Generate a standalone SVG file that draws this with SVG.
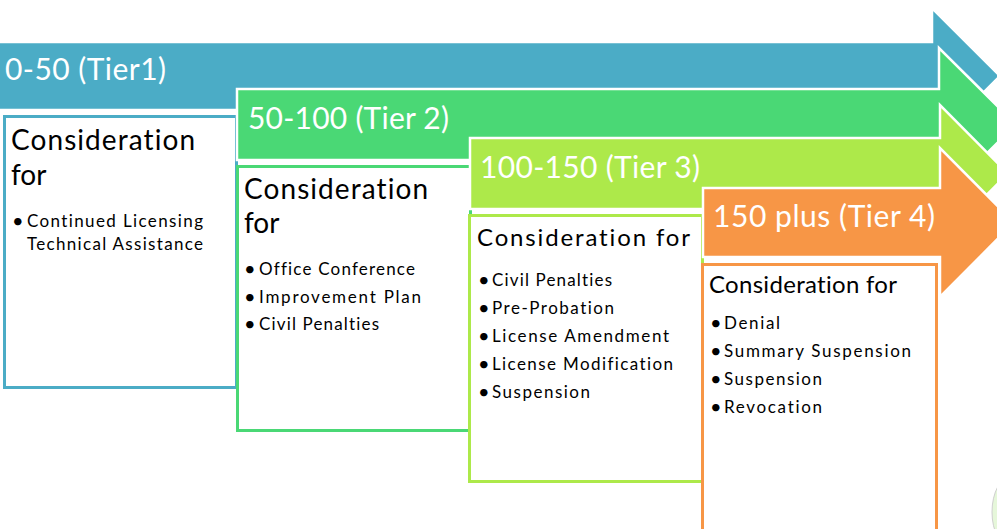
<svg xmlns="http://www.w3.org/2000/svg" width="997" height="529" viewBox="0 0 997 529">
<style>
text{font-variant-ligatures:none;font-feature-settings:"liga" 0}
.arrow{stroke:#ffffff;stroke-width:2.5;stroke-linejoin:miter}
.box{fill:#ffffff;stroke-width:3}
.hdr{font-family:Lato,"Open Sans",sans-serif;font-size:30px;fill:#ffffff}
.big{font-family:Lato,"Open Sans",sans-serif;font-size:28px;fill:#000000}
.mid{font-family:Lato,"Open Sans",sans-serif;font-size:24px;fill:#000000}
.itm{font-family:Lato,"Open Sans",sans-serif;font-size:17px;fill:#000000}
.bul{font-family:Lato,"Open Sans",sans-serif;font-size:20px;fill:#000000}
</style>
<rect width="997" height="529" fill="#ffffff"/>
<g id="tier1">
<path class="arrow" fill="#4BACC6" d="M-3,42 H932 V8 L1000,76 L932,144 V110 H-3 Z"/>
<text class="hdr" x="5" y="80" textLength="161">0-50 (Tier1)</text>
<rect class="box" x="4.5" y="116.5" width="232" height="271" stroke="#4BACC6"/>
<text class="big" x="11" y="150" textLength="184">Consideration</text>
<text class="big" x="11" y="185">for</text>
<text class="bul" x="12" y="228">•</text>
<text class="itm" x="27" y="227" textLength="176">Continued Licensing</text>
<text class="itm" x="27" y="250" textLength="176">Technical Assistance</text>
</g>
<g id="tier2">
<path class="arrow" fill="#4AD875" d="M237,89 H939 V48 L1016,124.5 L939,201 V160 H237 Z"/>
<text class="hdr" x="248" y="129" textLength="201">50-100 (Tier 2)</text>
<rect class="box" x="237.5" y="166.5" width="233" height="264" stroke="#4AD875"/>
<text class="big" x="244" y="199" textLength="184">Consideration</text>
<text class="big" x="244" y="233">for</text>
<text class="bul" x="244" y="276">•</text>
<text class="itm" x="259" y="275" textLength="156">Office Conference</text>
<text class="bul" x="244" y="304">•</text>
<text class="itm" x="259" y="303" textLength="162">Improvement Plan</text>
<text class="bul" x="244" y="331">•</text>
<text class="itm" x="259" y="330" textLength="120">Civil Penalties</text>
</g>
<g id="tier3">
<path class="arrow" fill="#ADE94A" d="M470,138 H940 V105 L1008,173.5 L940,242 V209 H470 Z"/>
<text class="hdr" x="480" y="178" textLength="220">100-150 (Tier 3)</text>
<rect class="box" x="469.5" y="215.5" width="233" height="266" stroke="#ADE94A"/>
<text class="mid" x="477" y="246" textLength="213">Consideration for</text>
<text class="bul" x="478" y="287">•</text>
<text class="itm" x="492" y="286" textLength="120">Civil Penalties</text>
<text class="bul" x="478" y="315">•</text>
<text class="itm" x="492" y="314" textLength="122">Pre-Probation</text>
<text class="bul" x="478" y="343">•</text>
<text class="itm" x="492" y="342" textLength="177">License Amendment</text>
<text class="bul" x="478" y="371">•</text>
<text class="itm" x="492" y="370" textLength="181">License Modification</text>
<text class="bul" x="478" y="399">•</text>
<text class="itm" x="492" y="398" textLength="98">Suspension</text>
</g>
<g id="tier4">
<path class="arrow" fill="#F79646" d="M703,188 H940 V148 L1014,222.5 L940,297 V257 H703 Z"/>
<text class="hdr" x="713" y="227" textLength="222">150 plus (Tier 4)</text>
<rect class="box" x="702.5" y="264.5" width="234" height="280" stroke="#F79646"/>
<text class="mid" x="709" y="293" textLength="188">Consideration for</text>
<text class="bul" x="710" y="330">•</text>
<text class="itm" x="724" y="329" textLength="56">Denial</text>
<text class="bul" x="710" y="358">•</text>
<text class="itm" x="724" y="357" textLength="187">Summary Suspension</text>
<text class="bul" x="710" y="386">•</text>
<text class="itm" x="724" y="385" textLength="98">Suspension</text>
<text class="bul" x="710" y="414">•</text>
<text class="itm" x="724" y="413" textLength="98">Revocation</text>
</g>
<g id="connectors"></g>
<ellipse cx="1012" cy="512" rx="20" ry="36" fill="#E6F7DA" stroke="#cfcfcf" stroke-width="1"/>
</svg>
